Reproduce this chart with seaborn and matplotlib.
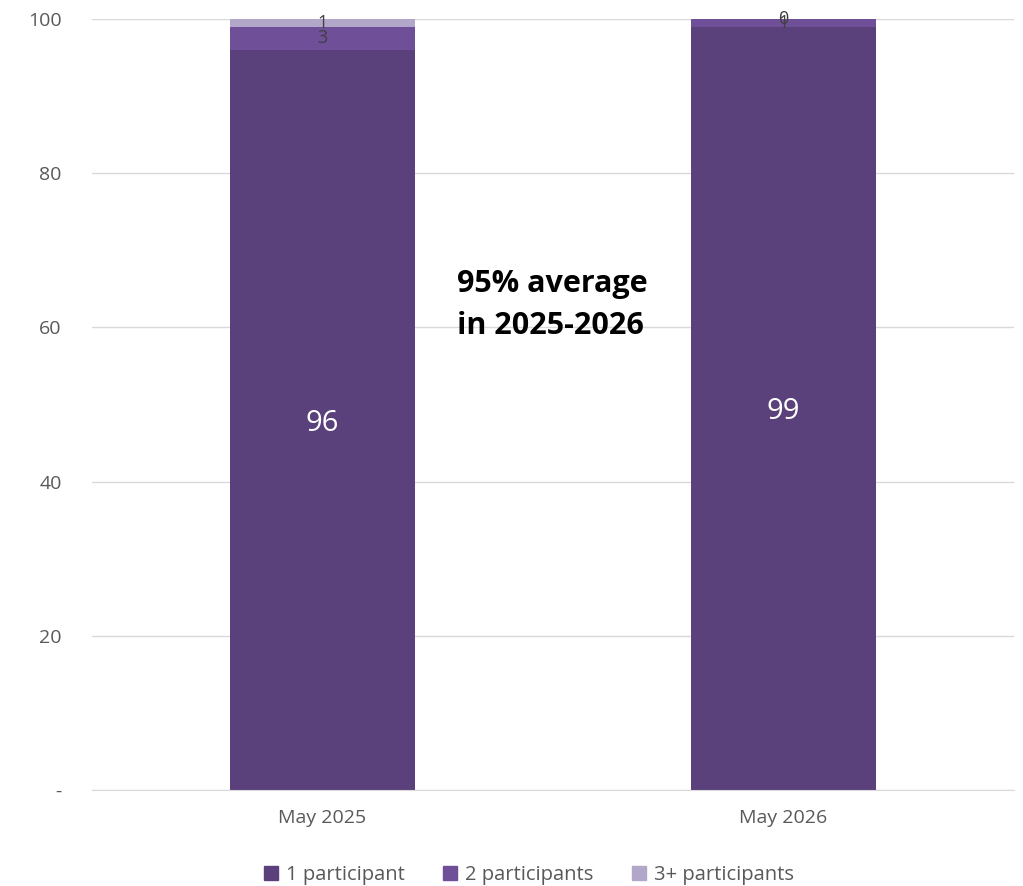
import matplotlib
matplotlib.use("Agg")
import matplotlib.pyplot as plt
import seaborn as sns
import pandas as pd
import numpy as np
from matplotlib.patches import Patch

categories = ["May 2025", "May 2026"]
series_names = ["1 participant", "2 participants", "3+ participants"]
one_participant = [96, 99]
two_participants = [3, 1]
three_plus = [1, 0]
yticks = [0, 20, 40, 60, 80, 100]
ytick_labels = ["-", "20", "40", "60", "80", "100"]
colors = ["#5B417B", "#6E4F98", "#B2A7C8"]

sns.set_style("white")
plt.rcParams['font.family'] = ['Open Sans', 'DejaVu Sans']

fig = plt.figure(figsize=(10.23, 8.86), dpi=100)
ax = fig.add_axes([0.09, 0.1084, 0.901, 0.8702])

series = [one_participant, two_participants, three_plus]
cum = np.cumsum(np.array(series), axis=0)

# draw from top (largest cumulative) down so lower segments overlay
for i in reversed(range(len(series))):
    df = pd.DataFrame({"cat": categories, "val": cum[i]})
    sns.barplot(data=df, x="cat", y="val", color=colors[i], width=0.4,
                saturation=1, ax=ax, zorder=2, linewidth=0, edgecolor=colors[i])

# labels
for j, cat in enumerate(categories):
    bottom = 0
    for i, s in enumerate(series):
        v = s[j]
        center = bottom + v / 2
        if i == 0:
            ax.text(j, center, f"{v}", ha="center", va="center_baseline", color="white",
                    fontsize=21, zorder=5)
        else:
            ax.text(j, center, f"{v}", ha="center", va="center", color="#404040",
                    fontsize=13, zorder=5)
        bottom += v

ax.text(0.396, 0.629, "95% average\nin 2025-2026", transform=ax.transAxes,
        ha="left", va="center", fontsize=22, fontweight="bold", color="black",
        linespacing=1.55, zorder=6)

ax.set_ylim(0, 100)
ax.set_xlim(-0.5, 1.5)
ax.set_yticks(yticks)
ax.set_yticklabels(ytick_labels)
ax.yaxis.grid(True, color="#D9D9D9", linewidth=1, zorder=0)
ax.set_axisbelow(True)
for sp in ["top", "right", "left"]:
    ax.spines[sp].set_visible(False)
ax.spines["bottom"].set_color("#D9D9D9")
ax.tick_params(axis="both", length=0, labelsize=14, labelcolor="#595959")
ax.tick_params(axis="x", pad=14)
ax.tick_params(axis="y", pad=22)
ax.set_xlabel("")
ax.set_ylabel("")

handles = [Patch(facecolor=c, edgecolor=c) for c in colors]
fig.legend(handles, series_names, loc="center", bbox_to_anchor=(0.517, 0.012),
           ncol=3, frameon=False, fontsize=14.5, handlelength=0.7, handleheight=0.7,
           columnspacing=1.9, handletextpad=0.4, labelcolor="#595959")

fig.savefig("out.png", dpi=100)
